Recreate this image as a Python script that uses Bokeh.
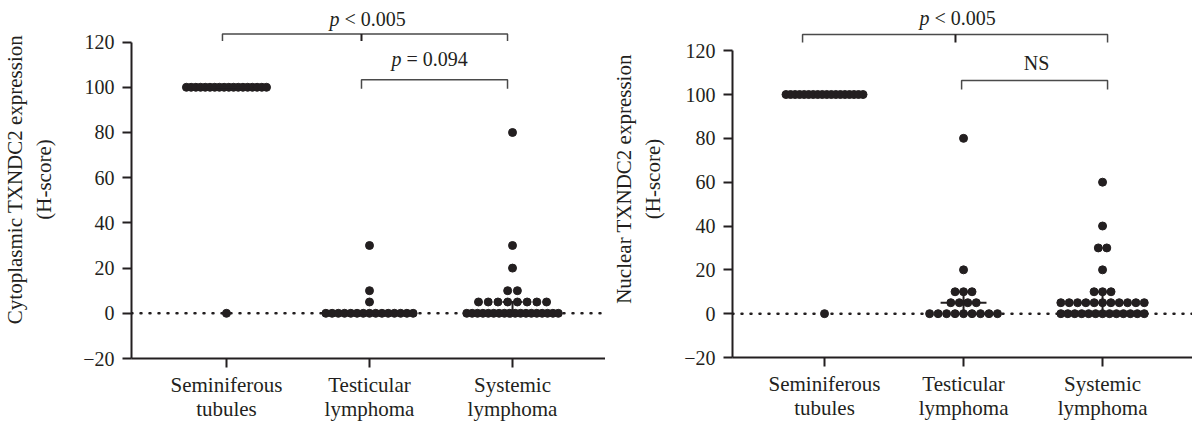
from bokeh.plotting import figure
from bokeh.layouts import row
from bokeh.models import FixedTicker, Span, Range1d, Label
from bokeh.embed import file_html
from bokeh.resources import INLINE

# ---------------- data ----------------
groups = ["Seminiferous\ntubules", "Testicular\nlymphoma", "Systemic\nlymphoma"]
group_pos = [1, 2, 3]
y_ticks = [-20, 0, 20, 40, 60, 80, 100, 120]

# Cytoplasmic TXNDC2 H-scores: distinct values and number of samples at each
cyto_sem_vals = [100, 0]
cyto_sem_counts = [18, 1]
cyto_tes_vals = [30, 10, 5, 0]
cyto_tes_counts = [1, 1, 1, 15]
cyto_sys_vals = [80, 30, 20, 10, 5, 0]
cyto_sys_counts = [1, 1, 1, 2, 8, 18]
cyto_median = [100, 0, 0]
cyto_q1 = [100, 0, 0]
cyto_q3 = [100, 0, 5]

# Nuclear TXNDC2 H-scores
nuc_sem_vals = [100, 0]
nuc_sem_counts = [18, 1]
nuc_tes_vals = [80, 20, 10, 5, 0]
nuc_tes_counts = [1, 1, 3, 4, 9]
nuc_sys_vals = [60, 40, 30, 20, 10, 5, 0]
nuc_sys_counts = [1, 1, 2, 1, 3, 11, 13]
nuc_median = [100, 5, 5]
nuc_q1 = [100, 0, 0]
nuc_q3 = [100, 10, 10]

cyto_label = "Cytoplasmic TXNDC2 expression\n(H-score)"
nuc_label = "Nuclear TXNDC2 expression\n(H-score)"

# ---------------- styling ----------------
INK = "#231f20"
FONT = "Liberation Serif"
FS = "20px"
FS_LAB = "21px"


def swarm(center, vals, counts, step, maxw):
    xs, ys = [], []
    for v, n in zip(vals, counts):
        s = step if n < 2 else min(step, maxw / (n - 1))
        for i in range(n):
            xs.append(center + (i - (n - 1) / 2) * s)
            ys.append(v)
    return xs, ys


def make_panel(fw, fh, mbl, xr, yr, ylabel, lab_standoff, sets, med, q1, q3,
               step, maxws, medw, capw, brackets, texts):
    p = figure(frame_width=fw, frame_height=fh, x_range=Range1d(*xr), y_range=Range1d(*yr),
               output_backend="svg", toolbar_location=None,
               min_border_left=mbl, min_border_right=0, min_border_top=0,
               min_border_bottom=40)
    p.outline_line_color = None
    p.grid.visible = False
    p.background_fill_color = "white"
    p.border_fill_color = "white"

    for ax in (p.xaxis[0], p.yaxis[0]):
        ax.axis_line_width = 2
        ax.axis_line_color = INK
        ax.major_tick_line_width = 2
        ax.major_tick_line_color = INK
        ax.major_tick_out = 9
        ax.major_tick_in = 0
        ax.minor_tick_line_color = None
        ax.major_label_text_font = FONT
        ax.major_label_text_color = INK

    xa = p.xaxis[0]
    xa.ticker = FixedTicker(ticks=group_pos)
    xa.major_label_overrides = {gp: g for gp, g in zip(group_pos, groups)}
    xa.major_label_standoff = 5
    xa.major_label_text_font_size = FS_LAB
    xa.major_label_text_line_height = 1.0

    ya = p.yaxis[0]
    ya.ticker = FixedTicker(ticks=y_ticks)
    ya.major_label_overrides = {t: (str(t).replace("-", "\u2212")) for t in y_ticks}
    ya.major_label_text_font_size = FS
    ya.bounds = (-20, 120)
    ya.major_label_standoff = 8
    ya.axis_label = ylabel
    ya.axis_label_text_font = FONT
    ya.axis_label_text_font_size = FS_LAB
    ya.axis_label_text_font_style = "normal"
    ya.axis_label_text_color = INK
    ya.axis_label_standoff = lab_standoff

    zero = Span(location=0, dimension="width", line_color=INK, line_width=2.5,
                line_dash="1 8", line_cap="round", level="underlay")
    p.add_layout(zero)

    for gp, (vals, counts), mw in zip(group_pos, sets, maxws):
        xs, ys = swarm(gp, vals, counts, step, mw)
        p.scatter(xs, ys, size=8, color=INK, marker="circle")

    # median with interquartile range
    p.segment(x0=[g - medw / 2 for g in group_pos], y0=med,
              x1=[g + medw / 2 for g in group_pos], y1=med, line_color=INK, line_width=2)
    p.segment(x0=group_pos, y0=q1, x1=group_pos, y1=q3, line_color=INK, line_width=2)
    p.segment(x0=[g - capw / 2 for g in group_pos], y0=q3,
              x1=[g + capw / 2 for g in group_pos], y1=q3, line_color=INK, line_width=2)
    p.segment(x0=[g - capw / 2 for g in group_pos], y0=q1,
              x1=[g + capw / 2 for g in group_pos], y1=q1, line_color=INK, line_width=2)

    # significance brackets
    for (xa0, xa1, ybar, yend, xmid) in brackets:
        p.multi_line(xs=[[xa0, xa0, xa1, xa1]], ys=[[yend, ybar, ybar, yend]],
                     line_color="#4a4a4a", line_width=1.5)
        if xmid is not None:
            p.segment(x0=[xmid], y0=[ybar], x1=[xmid], y1=[yend],
                      line_color=INK, line_width=2)

    for (tx, ty, italic_p, rest, half_w) in texts:
        if italic_p:
            p.add_layout(Label(x=tx, y=ty, text="p", text_font=FONT,
                               text_font_style="italic", text_font_size=FS,
                               text_color=INK, text_align="left",
                               text_baseline="alphabetic", x_offset=-half_w))
            p.add_layout(Label(x=tx, y=ty, text=rest,
                               text_font=FONT, text_font_size=FS, text_color=INK,
                               text_align="left", text_baseline="alphabetic",
                               x_offset=-half_w + 15))
        else:
            p.add_layout(Label(x=tx, y=ty, text=rest, text_font=FONT,
                               text_font_size=FS, text_color=INK,
                               text_align="center", text_baseline="alphabetic"))
    return p


left = make_panel(
    fw=474, fh=358, mbl=126, xr=(0.336, 3.650), yr=(-20, 138.4),
    ylabel=cyto_label, lab_standoff=24,
    sets=[(cyto_sem_vals, cyto_sem_counts), (cyto_tes_vals, cyto_tes_counts),
          (cyto_sys_vals, cyto_sys_counts)],
    med=cyto_median, q1=cyto_q1, q3=cyto_q3,
    step=0.068, maxws=[0.56, 0.61, 0.64], medw=0.32, capw=0.14,
    brackets=[(0.972, 2.965, 123.6, 120.5, 1.944), (1.944, 2.965, 103.3, 99.3, None)],
    texts=[(1.993, 130.4, True, "< 0.005", 39), (2.434, 112.7, True, "= 0.094", 40)],
)

right = make_panel(
    fw=465, fh=357, mbl=127, xr=(0.338, 3.683), yr=(-20, 142.9),
    ylabel=nuc_label, lab_standoff=16,
    sets=[(nuc_sem_vals, nuc_sem_counts), (nuc_tes_vals, nuc_tes_counts),
          (nuc_sys_vals, nuc_sys_counts)],
    med=nuc_median, q1=nuc_q1, q3=nuc_q3,
    step=0.061, maxws=[0.554, 0.60, 0.60], medw=0.33, capw=0.14,
    brackets=[(0.842, 3.036, 127.4, 123.7, 1.942), (1.986, 3.036, 106.4, 102.3, None)],
    texts=[(1.964, 134.7, True, "< 0.005", 39), (2.525, 114.2, False, "NS", 0)],
)

layout = row(left, right, spacing=0)
open("out.html", "w").write(file_html(layout, INLINE))
